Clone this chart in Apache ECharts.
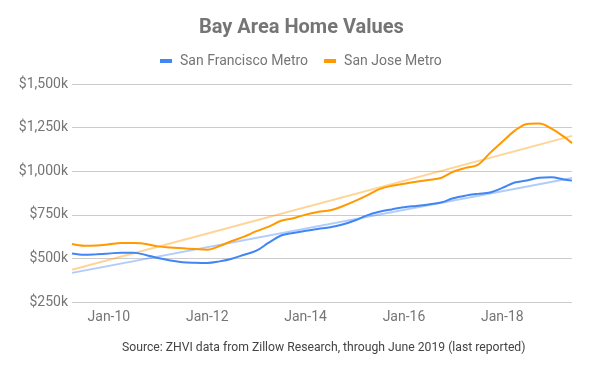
<!DOCTYPE html>
<html>
<head>
<meta charset="utf-8">
<script src="https://cdn.jsdelivr.net/npm/echarts@6/dist/echarts.min.js"></script>
<style>
html,body{margin:0;padding:0;background:#fff;}
#chart{width:599px;height:371px;}
</style>
</head>
<body>
<div id="chart"></div>
<script>
// Quarterly sample months (in $ thousands)
const dates = [
  '2009-04','2009-07','2009-10','2010-01','2010-04','2010-07','2010-10',
  '2011-01','2011-04','2011-07','2011-10','2012-01','2012-04','2012-07','2012-10',
  '2013-01','2013-04','2013-07','2013-10','2014-01','2014-04','2014-07','2014-10',
  '2015-01','2015-04','2015-07','2015-10','2016-01','2016-04','2016-07','2016-10',
  '2017-01','2017-04','2017-07','2017-10','2018-01','2018-04','2018-07','2018-10',
  '2019-01','2019-04','2019-06'
];
const sanFrancisco = [
  528,521,524,528,533,533,520,
  502,488,478,475,474,483,498,521,
  544,590,631,646,658,669,678,694,
  717,747,767,781,793,801,809,820,
  845,860,870,878,904,935,947,962,
  965,953,946
];
const sanJose = [
  582,572,574,581,589,588,583,
  569,562,558,554,550,571,600,625,
  656,682,716,730,751,766,776,799,
  828,861,897,916,928,940,950,961,
  997,1019,1036,1105,1169,1231,1271,1273,
  1244,1198,1161
];
const seriesNames = ['San Francisco Metro', 'San Jose Metro'];
const tickDates = ['2010-01','2012-01','2014-01','2016-01','2018-01'];
const tickLabels = ['Jan-10','Jan-12','Jan-14','Jan-16','Jan-18'];
const yTicks = [250, 500, 750, 1000, 1250, 1500];

// month index (months since Jan 2000) for a 'YYYY-MM' string
const mi = d => (parseInt(d.slice(0,4),10) - 2000) * 12 + (parseInt(d.slice(5,7),10) - 1);
const tickIdx = tickDates.map(mi);

function pairs(vals) { return dates.map((d, i) => [mi(d), vals[i]]); }

// Least-squares linear trendline computed from the data
function trend(vals) {
  const xs = dates.map(mi), n = xs.length;
  let sx = 0, sy = 0, sxx = 0, sxy = 0;
  for (let i = 0; i < n; i++) { sx += xs[i]; sy += vals[i]; sxx += xs[i]*xs[i]; sxy += xs[i]*vals[i]; }
  const m = (n*sxy - sx*sy) / (n*sxx - sx*sx);
  const b = (sy - m*sx) / n;
  return [[xs[0], m*xs[0]+b], [xs[n-1], m*xs[n-1]+b]];
}

const font = 'Roboto, "Noto Sans", Arial, sans-serif';
const chart = echarts.init(document.getElementById('chart'), null, {renderer: 'canvas'});
chart.setOption({
  animation: false,
  backgroundColor: '#ffffff',
  title: [
    {text: 'Bay Area Home Values', left: 199, top: 18, padding: 0,
     textStyle: {fontFamily: font, fontSize: 20, fontWeight: 'bold', color: '#757575'}},
    {text: 'Source: ZHVI data from Zillow Research, through June 2019 (last reported)',
     left: 122, top: 342, padding: 0,
     textStyle: {fontFamily: font, fontSize: 12.2, fontWeight: 'normal', color: '#444444'}}
  ],
  legend: {
    data: seriesNames, left: 160, top: 54, padding: 0,
    icon: 'rect', itemWidth: 12, itemHeight: 4, itemGap: 16,
    textStyle: {fontFamily: font, fontSize: 14, color: '#757575', padding: [0,0,0,3]}
  },
  grid: {left: 72, right: 27, top: 84, bottom: 69, containLabel: false},
  xAxis: {
    type: 'value',
    min: mi(dates[0]), max: mi(dates[dates.length-1]),
    axisLine: {show: false}, axisTick: {show: false}, splitLine: {show: false},
    axisLabel: {
      customValues: tickIdx,
      margin: 8,
      fontFamily: font, fontSize: 14, color: '#757575',
      formatter: v => { const i = tickIdx.indexOf(Math.round(v)); return i >= 0 ? tickLabels[i] : ''; }
    }
  },
  yAxis: {
    type: 'value', min: yTicks[0], max: yTicks[yTicks.length-1], interval: 250,
    axisLine: {show: false}, axisTick: {show: false},
    splitLine: {lineStyle: {color: '#cccccc', width: 1}},
    axisLabel: {
      margin: 4, fontFamily: font, fontSize: 14, color: '#757575',
      formatter: v => '$' + v.toLocaleString('en-US') + 'k'
    }
  },
  series: [
    {name: seriesNames[0] + ' trend', type: 'line', data: trend(sanFrancisco), symbol: 'none',
     lineStyle: {color: '#4285f4', width: 2, opacity: 0.42}, z: 1, silent: true},
    {name: seriesNames[1] + ' trend', type: 'line', data: trend(sanJose), symbol: 'none',
     lineStyle: {color: '#ff9900', width: 2, opacity: 0.42}, z: 1, silent: true},
    {name: seriesNames[0], type: 'line', data: pairs(sanFrancisco), symbol: 'none', smooth: 0.35,
     itemStyle: {color: '#4285f4'}, lineStyle: {color: '#4285f4', width: 2}, z: 3},
    {name: seriesNames[1], type: 'line', data: pairs(sanJose), symbol: 'none', smooth: 0.35,
     itemStyle: {color: '#ff9900'}, lineStyle: {color: '#ff9900', width: 2}, z: 3}
  ]
});
</script>
</body>
</html>
